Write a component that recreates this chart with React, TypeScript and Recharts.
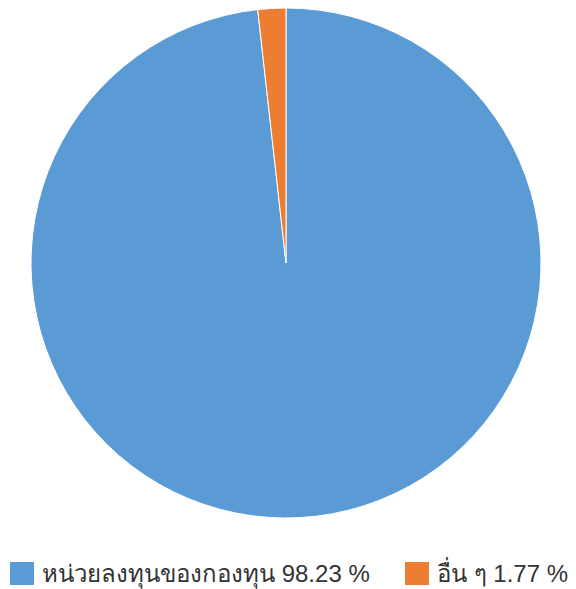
import React from "react";
import { PieChart, Pie, Cell, Legend } from "recharts";

const categories = ["หน่วยลงทุนของกองทุน", "อื่น ๆ"];
const values = [98.23, 1.77];
const colors = ["#5B9BD5", "#ED7D31"];

const data = categories.map((name, i) => ({ name, value: values[i] }));

const renderLegend = () => (
  <div style={{ position: "relative", width: 576, height: 36 }}>
    {data.map((d, i) => (
      <div
        key={d.name}
        style={{
          position: "absolute",
          left: i === 0 ? 10 : 405,
          top: 0,
          display: "flex",
          alignItems: "center",
          fontFamily: "'Liberation Sans', Arial, sans-serif",
          fontSize: 24,
          color: "#333",
          whiteSpace: "nowrap",
        }}
      >
        <span
          style={{
            display: "inline-block",
            width: 24,
            height: 23,
            background: colors[i],
            marginRight: 8,
          }}
        />
        <span>{`${d.name} ${d.value.toFixed(2)} %`}</span>
      </div>
    ))}
  </div>
);

export default function App() {
  return (
    <div style={{ position: "absolute", left: 0, top: 0, width: 576, height: 589, background: "#fff" }}>
      <PieChart width={576} height={589} margin={{ top: 0, right: 0, bottom: 0, left: 0 }}>
        <Pie
          data={data}
          dataKey="value"
          nameKey="name"
          cx={286}
          cy={263}
          outerRadius={255}
          startAngle={90}
          endAngle={-270}
          stroke="#ffffff"
          strokeWidth={1}
          isAnimationActive={false}
        >
          {data.map((d, i) => (
            <Cell key={d.name} fill={colors[i]} />
          ))}
        </Pie>
        <Legend
          content={renderLegend}
          wrapperStyle={{ position: "absolute", left: 0, top: 554, width: 576 }}
        />
      </PieChart>
    </div>
  );
}
